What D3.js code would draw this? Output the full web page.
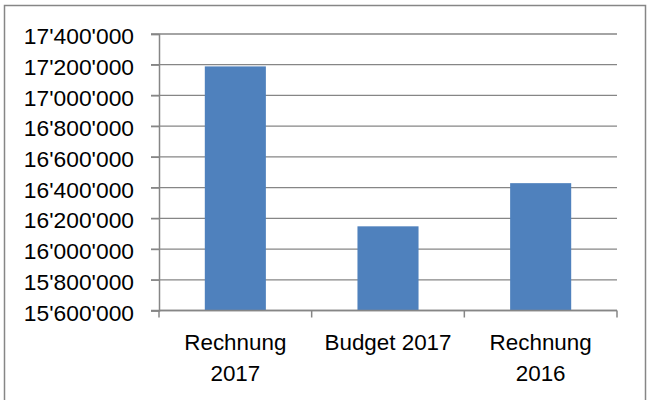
<!DOCTYPE html>
<html lang="de">
<head>
<meta charset="utf-8">
<script src="https://cdn.jsdelivr.net/npm/d3@7"></script>
<style>
  body { margin: 0; background: #fff; }
  text { font-family: "Liberation Sans", Arial, sans-serif; fill: #000; }
</style>
</head>
<body>
<script>
const categories = [["Rechnung", "2017"], ["Budget 2017"], ["Rechnung", "2016"]];
const values = [17189000, 16148000, 16429000];
const yTicks = [15600000, 15800000, 16000000, 16200000, 16400000, 16600000, 16800000, 17000000, 17200000, 17400000];

const width = 648, height = 400;
const margin = {top: 34, right: 30, bottom: 90, left: 159};

const svg = d3.select("body").append("svg")
  .attr("width", width)
  .attr("height", height);

svg.append("rect")
  .attr("x", 4.5).attr("y", 5.5)
  .attr("width", 641).attr("height", 420)
  .attr("fill", "#fff")
  .attr("stroke", "#868686")
  .attr("stroke-width", 1.5);

const x = d3.scaleBand()
  .domain(d3.range(categories.length))
  .range([margin.left, width - margin.right - 1])
  .paddingInner(0.6)
  .paddingOuter(0.3);

const y = d3.scaleLinear()
  .domain([15600000, 17400000])
  .range([310.5, margin.top]);

const fmt = v => d3.format(",")(v).replace(/,/g, "'");

// gridlines
svg.append("g")
  .selectAll("line")
  .data(yTicks)
  .join("line")
  .attr("x1", margin.left - 8)
  .attr("x2", width - margin.right - 1)
  .attr("y1", d => y(d))
  .attr("y2", d => y(d))
  .attr("stroke", "#868686")
  .attr("stroke-width", 1.3);

// bars
svg.append("g")
  .selectAll("rect")
  .data(values)
  .join("rect")
  .attr("x", (d, i) => x(i))
  .attr("width", x.bandwidth())
  .attr("y", d => y(d))
  .attr("height", d => y(15600000) - y(d))
  .attr("fill", "#4F81BD");

// y axis
const yAxis = svg.append("g")
  .attr("transform", `translate(${margin.left},0)`)
  .call(d3.axisLeft(y).tickValues(yTicks).tickFormat(fmt).tickSize(8).tickPadding(17));
yAxis.select(".domain").attr("stroke", "#868686").attr("stroke-width", 1.5);
yAxis.selectAll(".tick line").attr("stroke", "#868686").attr("stroke-width", 1.3);
yAxis.selectAll(".tick text")
  .attr("font-size", 22.8)
  .attr("dy", "0.42em")
  .style("font-family", "'Liberation Sans', Arial, sans-serif");

// x axis
const step = x.step();
const xTickPos = d3.range(categories.length + 1).map(i => x(0) - x.paddingOuter() * step + i * step);
const xAxisG = svg.append("g");
xAxisG.append("line")
  .attr("x1", margin.left).attr("x2", xTickPos[xTickPos.length - 1])
  .attr("y1", y(15600000)).attr("y2", y(15600000))
  .attr("stroke", "#868686").attr("stroke-width", 1.5);
xAxisG.selectAll("line.tk")
  .data(xTickPos)
  .join("line")
  .attr("class", "tk")
  .attr("x1", d => d).attr("x2", d => d)
  .attr("y1", y(15600000)).attr("y2", y(15600000) + 7)
  .attr("stroke", "#868686").attr("stroke-width", 1.5);

const labels = svg.append("g")
  .selectAll("text")
  .data(categories)
  .join("text")
  .attr("text-anchor", "middle")
  .attr("font-size", 22.4)
  .attr("transform", (d, i) => `translate(${x(i) + x.bandwidth() / 2},350)`);
labels.selectAll("tspan")
  .data(d => d)
  .join("tspan")
  .attr("x", 0)
  .attr("y", (d, i) => i * 30.5)
  .text(d => d);
</script>
</body>
</html>
